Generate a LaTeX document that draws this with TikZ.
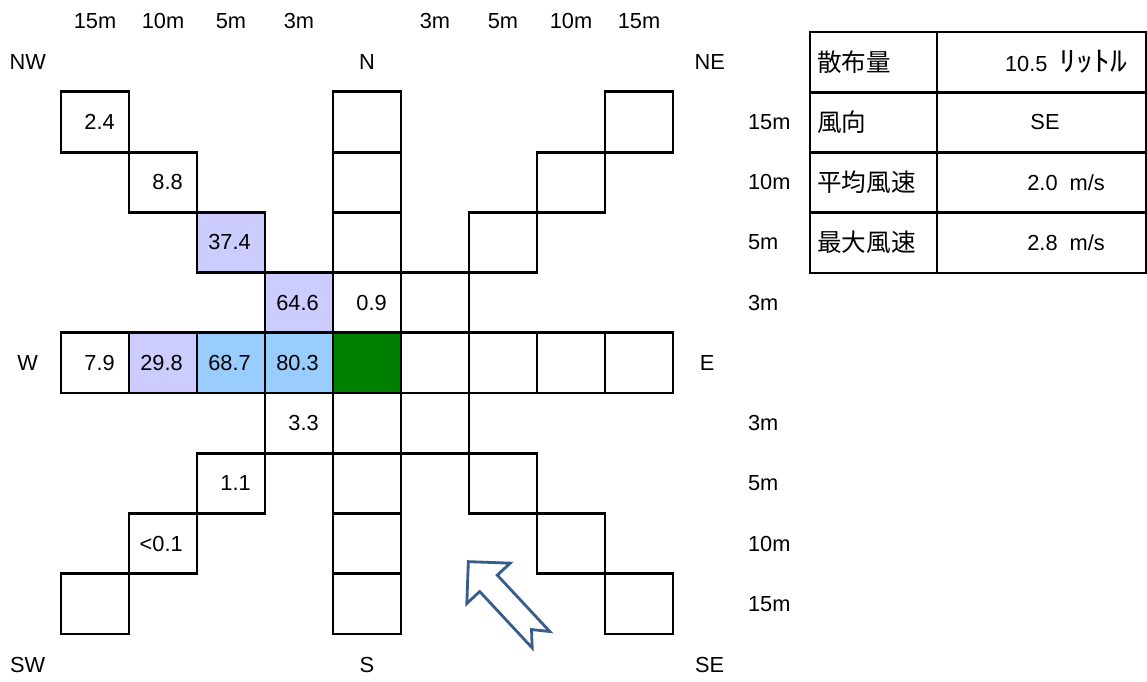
\documentclass[tikz,border=0pt]{standalone}
\usepackage{fontspec}
\setmainfont{Liberation Sans}
\newfontfamily\jpfont{Noto Sans CJK JP}
\definecolor{lavender}{HTML}{CCCCFF}
\definecolor{skyblue}{HTML}{99CCFF}
\definecolor{centregreen}{HTML}{008000}
\definecolor{windblue}{HTML}{385D8A}

\begin{document}
\begin{tikzpicture}[x=1.7cm, y=1.506cm, every node/.style={inner sep=0pt},
    font=\fontsize{15.5}{18}\selectfont]
    \useasboundingbox (-5.397,-5.295) rectangle (11.47,6.025);

    % coloured cells
    \fill[centregreen] (-0.5,-0.5) rectangle (0.5,0.5);
    \fill[skyblue] (-2.5,-0.5) rectangle (-0.5,0.5);
    \fill[lavender] (-3.5,-0.5) rectangle (-2.5,0.5);
    \fill[lavender] (-2.5,1.5) rectangle (-1.5,2.5);
    \fill[lavender] (-1.5,0.5) rectangle (-0.5,1.5);

    % the eight arms
    \foreach \k in {-4,...,4} {
        \draw[line width=2pt] (\k-0.5,-0.5) rectangle (\k+0.5,0.5);
        \draw[line width=2pt] (-0.5,\k-0.5) rectangle (0.5,\k+0.5);
        \draw[line width=2pt] (\k-0.5,\k-0.5) rectangle (\k+0.5,\k+0.5);
        \draw[line width=2pt] ({\k-0.5},{-1*(\k)-0.5}) rectangle ({\k+0.5},{-1*(\k)+0.5});
    }

    % measured values
    \pgfmathsetmacro{\inset}{0.5-14/68}
    \foreach \x/\y/\v in {-4/4/2.4, -3/3/8.8, -2/2/37.4, -1/1/64.6, 0/1/0.9,
        -4/0/7.9, -3/0/29.8, -2/0/68.7, -1/0/80.3, -1/-1/3.3, -2/-2/1.1, -3/-3/<0.1}
        \node[anchor=east] (val\x\y) at (\x+\inset,\y) {\v};

    % distances
    \foreach \x/\t in {-4/15m, -3/10m, -2/5m, -1/3m, 1/3m, 2/5m, 3/10m, 4/15m}
        \node (top\x) at (\x,5.676) {\t};
    \foreach \y/\t in {4/15m, 3/10m, 2/5m, 1/3m, -1/3m, -2/5m, -3/10m, -4/15m}
        \node[anchor=west] (side\y) at (5.6,\y) {\t};

    % compass
    \node (nw) at (-4.99,5) {NW};
    \node (n) at (0,5) {N};
    \node (ne) at (5.04,5) {NE};
    \node (w) at (-4.99,0) {W};
    \node (e) at (5.0,0) {E};
    \node (sw) at (-4.99,-5.01) {SW};
    \node (s) at (0,-5.01) {S};
    \node (se) at (5.04,-5.01) {SE};

    % conditions table
    \draw[line width=2pt] (6.515,1.494) rectangle (11.456,5.494);
    \draw[line width=2pt] (8.382,1.494) -- (8.382,5.494);
    \draw[line width=2pt] (6.515,4.494) -- (11.456,4.494);
    \draw[line width=2pt] (6.515,3.494) -- (11.456,3.494);
    \draw[line width=2pt] (6.515,2.494) -- (11.456,2.494);
    \node[anchor=west, font=\jpfont\fontsize{17.5}{20}\selectfont] (amount) at (6.618,5) {散布量};
    \node[anchor=west, font=\jpfont\fontsize{17.5}{20}\selectfont] (winddir) at (6.618,4) {風向};
    \node[anchor=west, font=\jpfont\fontsize{17.5}{20}\selectfont] (meanspeed) at (6.618,3) {平均風速};
    \node[anchor=west, font=\jpfont\fontsize{17.5}{20}\selectfont] (maxspeed) at (6.618,2) {最大風速};
    \node (amountval) at (10.28,5) {10.5\ \ \scalebox{1.2}[1]{\jpfont\fontsize{20}{22}\selectfont ﾘｯﾄﾙ}};
    \node (winddirval) at (9.97,4) {SE};
    \node (meanval) at (10.28,3) {2.0\ \ m/s};
    \node (maxval) at (10.28,2) {2.8\ \ m/s};

    % wind arrow
    \draw[windblue, line width=2pt, fill=white] (1.490,-3.298) -- (2.106,-3.323) -- (1.916,-3.522)
        -- (2.688,-4.458) -- (2.419,-4.425) -- (2.429,-4.730) -- (1.657,-3.794) -- (1.468,-3.993) -- cycle;
\end{tikzpicture}
\end{document}
